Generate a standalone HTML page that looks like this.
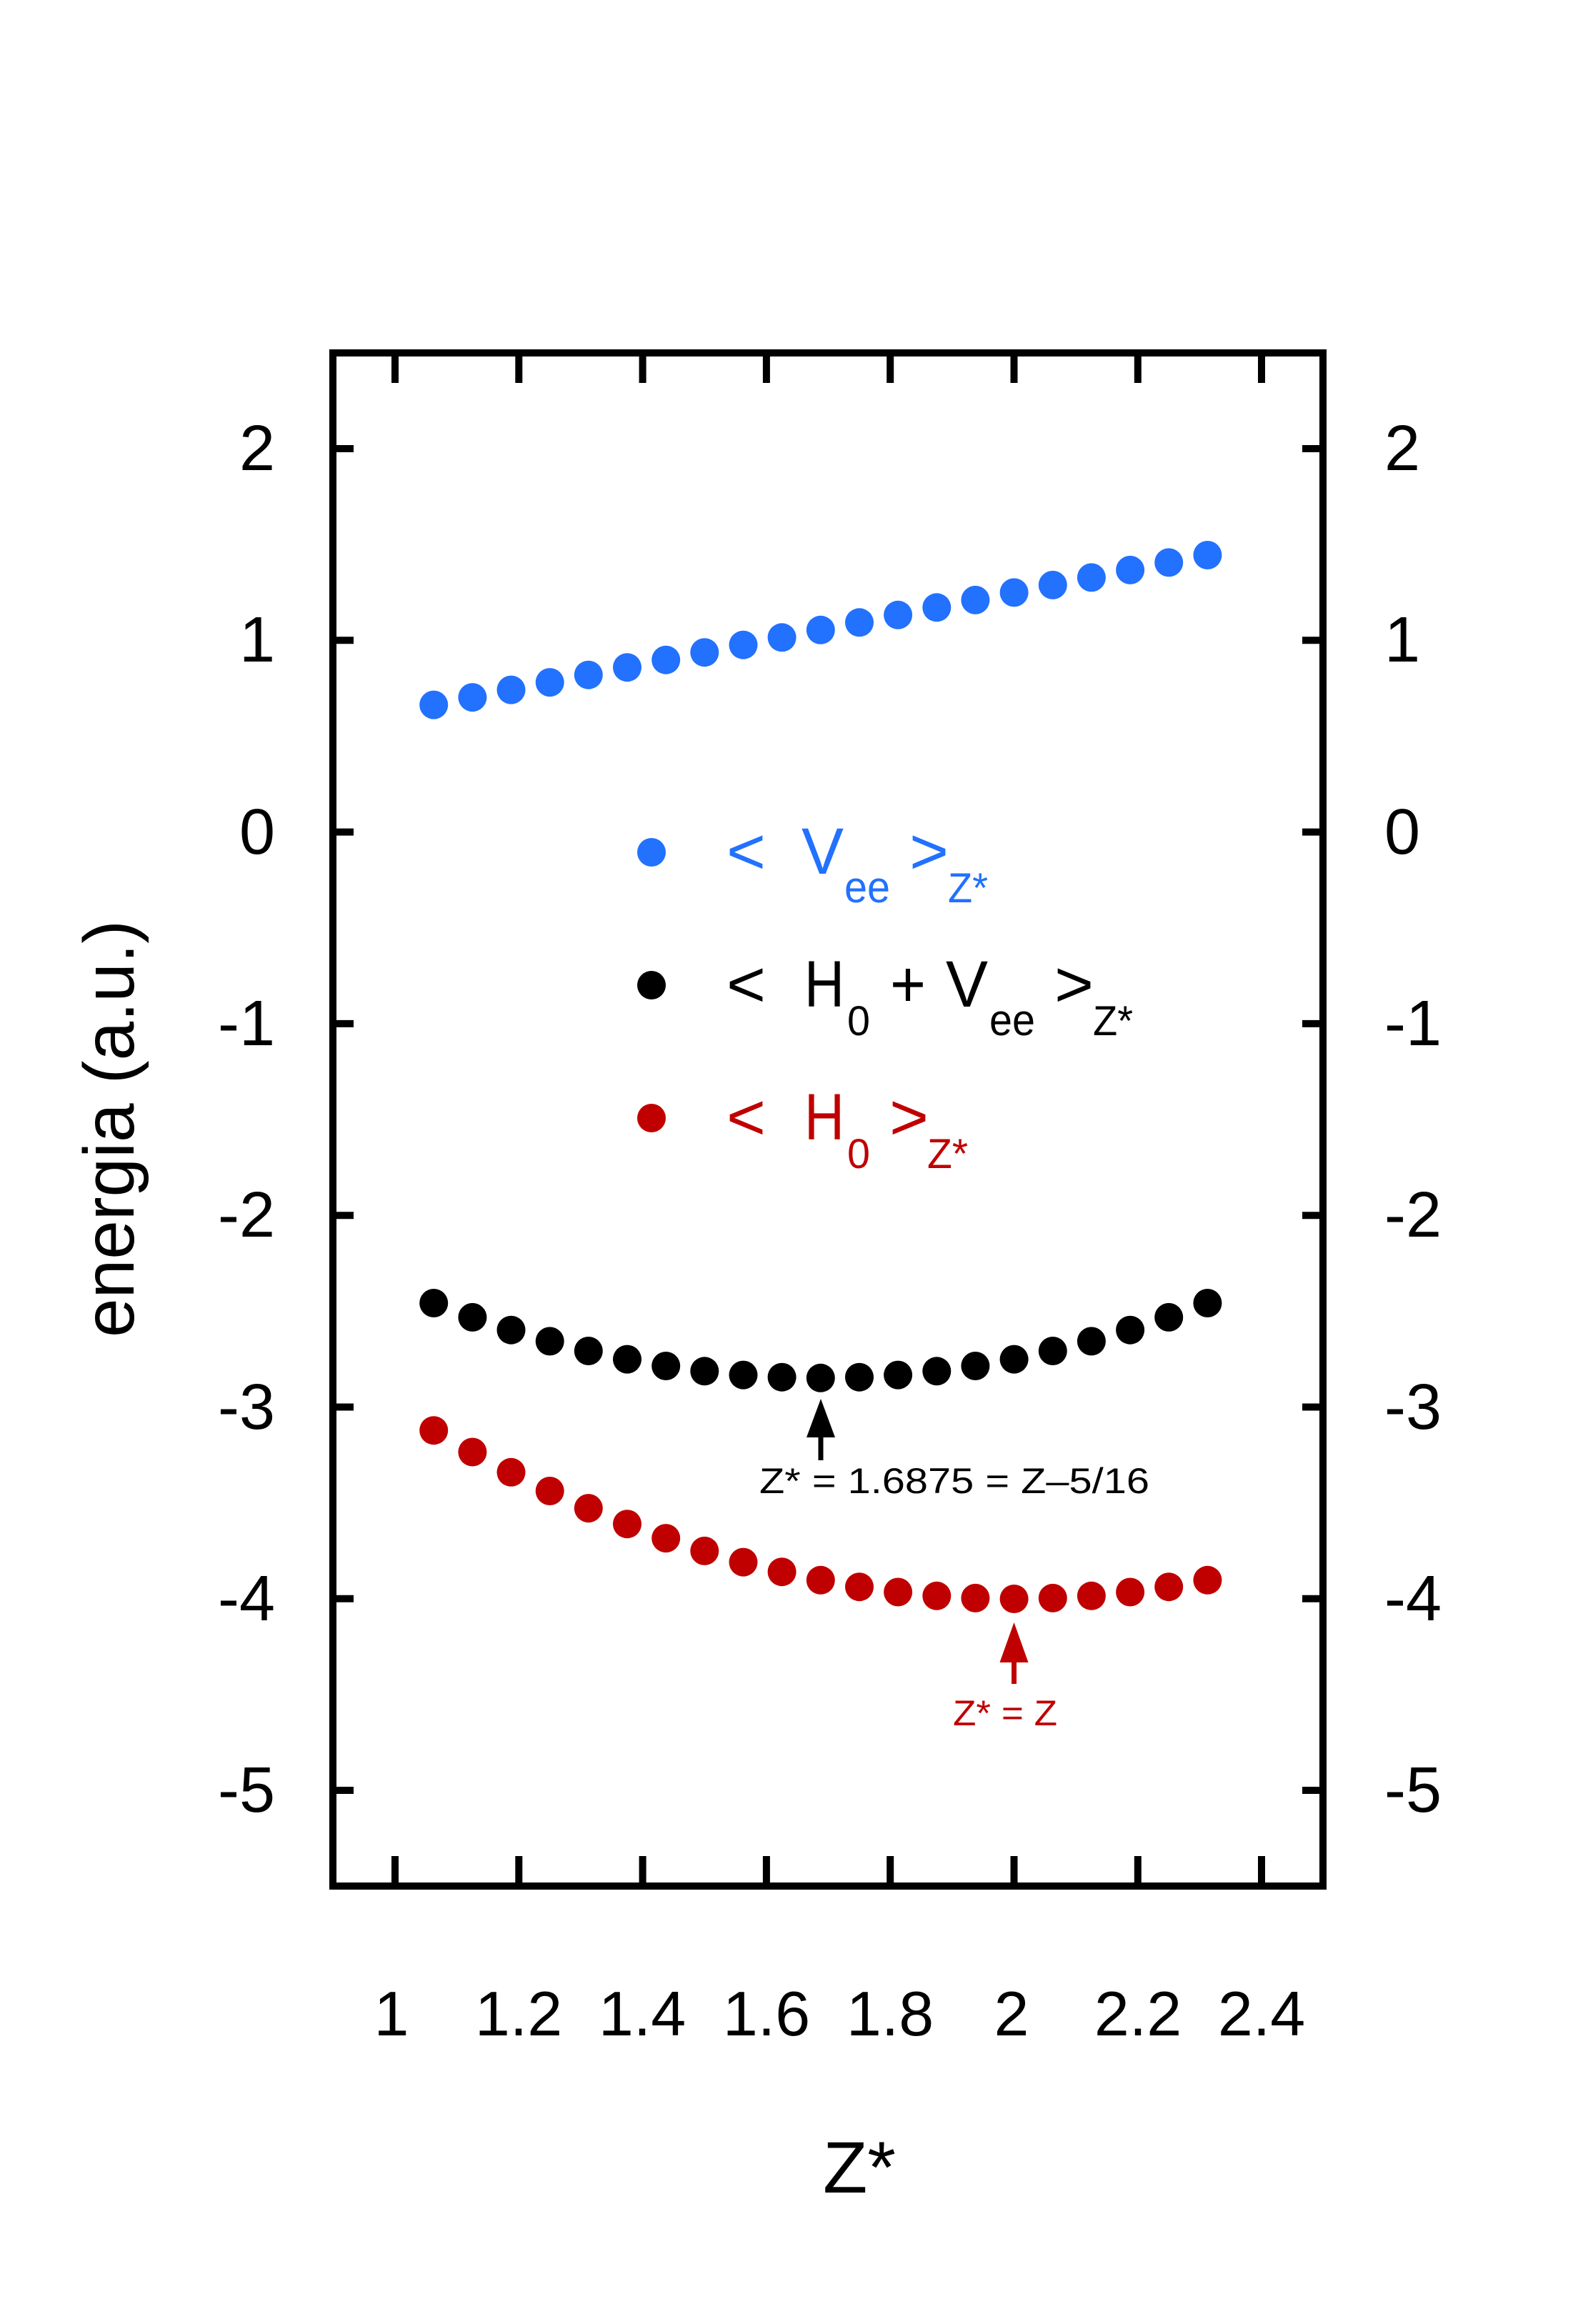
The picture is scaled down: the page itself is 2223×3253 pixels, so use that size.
<!DOCTYPE html>
<html><head><meta charset="utf-8"><style>
html,body{margin:0;padding:0;background:#fff}
svg{display:block}
text{font-family:"Liberation Sans",sans-serif}
</style></head><body>
<svg width="2223" height="3253" viewBox="0 0 2223 3253" xmlns="http://www.w3.org/2000/svg">
<rect width="2223" height="3253" fill="#fff"/>
<!-- frame -->
<rect x="466" y="494" width="1386" height="2146" fill="none" stroke="#000" stroke-width="10"/>
<g stroke="#000" stroke-width="10">
<!-- x ticks -->
<path d="M553 499v37M726.3 499v37M899.6 499v37M1072.9 499v37M1246.2 499v37M1419.5 499v37M1592.8 499v37M1766 499v37"/>
<path d="M553 2635v-37M726.3 2635v-37M899.6 2635v-37M1072.9 2635v-37M1246.2 2635v-37M1419.5 2635v-37M1592.8 2635v-37M1766 2635v-37"/>
<!-- y ticks -->
<path d="M471 628h24M471 896.3h24M471 1164.6h24M471 1432.9h24M471 1701.2h24M471 1969.5h24M471 2237.8h24M471 2506h24"/>
<path d="M1847 628h-24M1847 896.3h-24M1847 1164.6h-24M1847 1432.9h-24M1847 1701.2h-24M1847 1969.5h-24M1847 2237.8h-24M1847 2506h-24"/>
</g>
<!-- left y labels -->
<g font-size="90" text-anchor="end">
<text x="385" y="658">2</text><text x="385" y="926">1</text><text x="385" y="1195">0</text>
<text x="385" y="1463">-1</text><text x="385" y="1731">-2</text><text x="385" y="2000">-3</text>
<text x="385" y="2268">-4</text><text x="385" y="2536">-5</text>
</g>
<g font-size="90" text-anchor="start">
<text x="1938" y="658">2</text><text x="1938" y="926">1</text><text x="1938" y="1195">0</text>
<text x="1938" y="1463">-1</text><text x="1938" y="1731">-2</text><text x="1938" y="2000">-3</text>
<text x="1938" y="2268">-4</text><text x="1938" y="2536">-5</text>
</g>
<!-- x labels -->
<g font-size="88" text-anchor="middle">
<text x="548" y="2849">1</text><text x="726" y="2849">1.2</text><text x="899" y="2849">1.4</text>
<text x="1073" y="2849">1.6</text><text x="1246" y="2849">1.8</text><text x="1416" y="2849">2</text>
<text x="1593" y="2849">2.2</text><text x="1766" y="2849">2.4</text>
</g>
<text x="1203" y="3069" font-size="102" text-anchor="middle">Z*</text>
<text transform="translate(187,1580) rotate(-90)" font-size="100" text-anchor="middle" textLength="584" lengthAdjust="spacingAndGlyphs">energia (a.u.)</text>

<!-- blue series -->
<g fill="#2271ff">
<circle cx="607.2" cy="986.6" r="20"/><circle cx="661.4" cy="976.1" r="20"/><circle cx="715.5" cy="965.6" r="20"/>
<circle cx="769.7" cy="955.1" r="20"/><circle cx="823.8" cy="944.7" r="20"/><circle cx="878" cy="934.2" r="20"/>
<circle cx="932.2" cy="923.7" r="20"/><circle cx="986.3" cy="913.2" r="20"/><circle cx="1040.5" cy="902.7" r="20"/>
<circle cx="1094.6" cy="892.3" r="20"/><circle cx="1148.8" cy="881.8" r="20"/><circle cx="1203" cy="871.3" r="20"/>
<circle cx="1257.1" cy="860.8" r="20"/><circle cx="1311.3" cy="850.3" r="20"/><circle cx="1365.4" cy="839.9" r="20"/>
<circle cx="1419.6" cy="829.4" r="20"/><circle cx="1473.8" cy="818.9" r="20"/><circle cx="1527.9" cy="808.4" r="20"/>
<circle cx="1582.1" cy="797.9" r="20"/><circle cx="1636.2" cy="787.4" r="20"/><circle cx="1690.4" cy="777" r="20"/>
<circle cx="912" cy="1193" r="20"/>
</g>
<!-- black series -->
<g fill="#000">
<circle cx="607.2" cy="1824" r="20"/><circle cx="661.4" cy="1843.9" r="20"/><circle cx="715.5" cy="1861.7" r="20"/>
<circle cx="769.7" cy="1877.4" r="20"/><circle cx="823.8" cy="1891" r="20"/><circle cx="878" cy="1902.6" r="20"/>
<circle cx="932.2" cy="1912" r="20"/><circle cx="986.3" cy="1919.3" r="20"/><circle cx="1040.5" cy="1924.6" r="20"/>
<circle cx="1094.6" cy="1927.7" r="20"/><circle cx="1148.8" cy="1928.8" r="20"/><circle cx="1203" cy="1927.7" r="20"/>
<circle cx="1257.1" cy="1924.6" r="20"/><circle cx="1311.3" cy="1919.3" r="20"/><circle cx="1365.4" cy="1912" r="20"/>
<circle cx="1419.6" cy="1902.6" r="20"/><circle cx="1473.8" cy="1891" r="20"/><circle cx="1527.9" cy="1877.4" r="20"/>
<circle cx="1582.1" cy="1861.7" r="20"/><circle cx="1636.2" cy="1843.9" r="20"/><circle cx="1690.4" cy="1824" r="20"/>
<circle cx="912" cy="1379" r="20"/>
</g>
<!-- red series -->
<g fill="#c00000">
<circle cx="607.2" cy="2002.2" r="20"/><circle cx="661.4" cy="2032.5" r="20"/><circle cx="715.5" cy="2060.8" r="20"/>
<circle cx="769.7" cy="2087" r="20"/><circle cx="823.8" cy="2111.1" r="20"/><circle cx="878" cy="2133.2" r="20"/>
<circle cx="932.2" cy="2153.1" r="20"/><circle cx="986.3" cy="2170.9" r="20"/><circle cx="1040.5" cy="2186.6" r="20"/>
<circle cx="1094.6" cy="2200.2" r="20"/><circle cx="1148.8" cy="2211.8" r="20"/><circle cx="1203" cy="2221.2" r="20"/>
<circle cx="1257.1" cy="2228.5" r="20"/><circle cx="1311.3" cy="2233.8" r="20"/><circle cx="1365.4" cy="2236.9" r="20"/>
<circle cx="1419.6" cy="2238" r="20"/><circle cx="1473.8" cy="2236.9" r="20"/><circle cx="1527.9" cy="2233.8" r="20"/>
<circle cx="1582.1" cy="2228.5" r="20"/><circle cx="1636.2" cy="2221.2" r="20"/><circle cx="1690.4" cy="2211.8" r="20"/>
<circle cx="912" cy="1565" r="20"/>
</g>

<!-- legend text -->
<g fill="#2271ff">
<text x="1017" y="1223" font-size="92" textLength="55" lengthAdjust="spacingAndGlyphs">&lt;</text>
<text x="1122" y="1223" font-size="92" textLength="59" lengthAdjust="spacingAndGlyphs">V</text>
<text x="1182" y="1263" font-size="62" textLength="64" lengthAdjust="spacingAndGlyphs">ee</text>
<text x="1273" y="1223" font-size="92" textLength="55" lengthAdjust="spacingAndGlyphs">&gt;</text>
<text x="1327" y="1263" font-size="58" textLength="56" lengthAdjust="spacingAndGlyphs">Z*</text>
</g>
<g fill="#000">
<text x="1017" y="1409" font-size="92" textLength="55" lengthAdjust="spacingAndGlyphs">&lt;</text>
<text x="1126" y="1409" font-size="92" textLength="56" lengthAdjust="spacingAndGlyphs">H</text>
<text x="1186" y="1449" font-size="58" textLength="32" lengthAdjust="spacingAndGlyphs">0</text>
<text x="1246" y="1409" font-size="92" textLength="50" lengthAdjust="spacingAndGlyphs">+</text>
<text x="1324" y="1409" font-size="92" textLength="59" lengthAdjust="spacingAndGlyphs">V</text>
<text x="1385" y="1449" font-size="62" textLength="64" lengthAdjust="spacingAndGlyphs">ee</text>
<text x="1476" y="1409" font-size="92" textLength="55" lengthAdjust="spacingAndGlyphs">&gt;</text>
<text x="1530" y="1449" font-size="58" textLength="56" lengthAdjust="spacingAndGlyphs">Z*</text>
</g>
<g fill="#c00000">
<text x="1017" y="1595" font-size="92" textLength="55" lengthAdjust="spacingAndGlyphs">&lt;</text>
<text x="1126" y="1595" font-size="92" textLength="56" lengthAdjust="spacingAndGlyphs">H</text>
<text x="1186" y="1635" font-size="58" textLength="32" lengthAdjust="spacingAndGlyphs">0</text>
<text x="1245" y="1595" font-size="92" textLength="55" lengthAdjust="spacingAndGlyphs">&gt;</text>
<text x="1298" y="1635" font-size="58" textLength="57" lengthAdjust="spacingAndGlyphs">Z*</text>
</g>

<!-- annotations -->
<path d="M1149 1958 L1169 2012 L1129 2012 Z" fill="#000"/>
<rect x="1145.5" y="2010" width="7" height="34" fill="#000"/>
<text x="1063" y="2090" font-size="50" textLength="546" lengthAdjust="spacingAndGlyphs">Z* = 1.6875 = Z–5/16</text>
<path d="M1419.5 2271 L1439.5 2327 L1399.5 2327 Z" fill="#c00000"/>
<rect x="1416" y="2325" width="7" height="32" fill="#c00000"/>
<text x="1334" y="2415" font-size="50" textLength="146" lengthAdjust="spacingAndGlyphs" fill="#c00000">Z* = Z</text>
</svg>
</body></html>
